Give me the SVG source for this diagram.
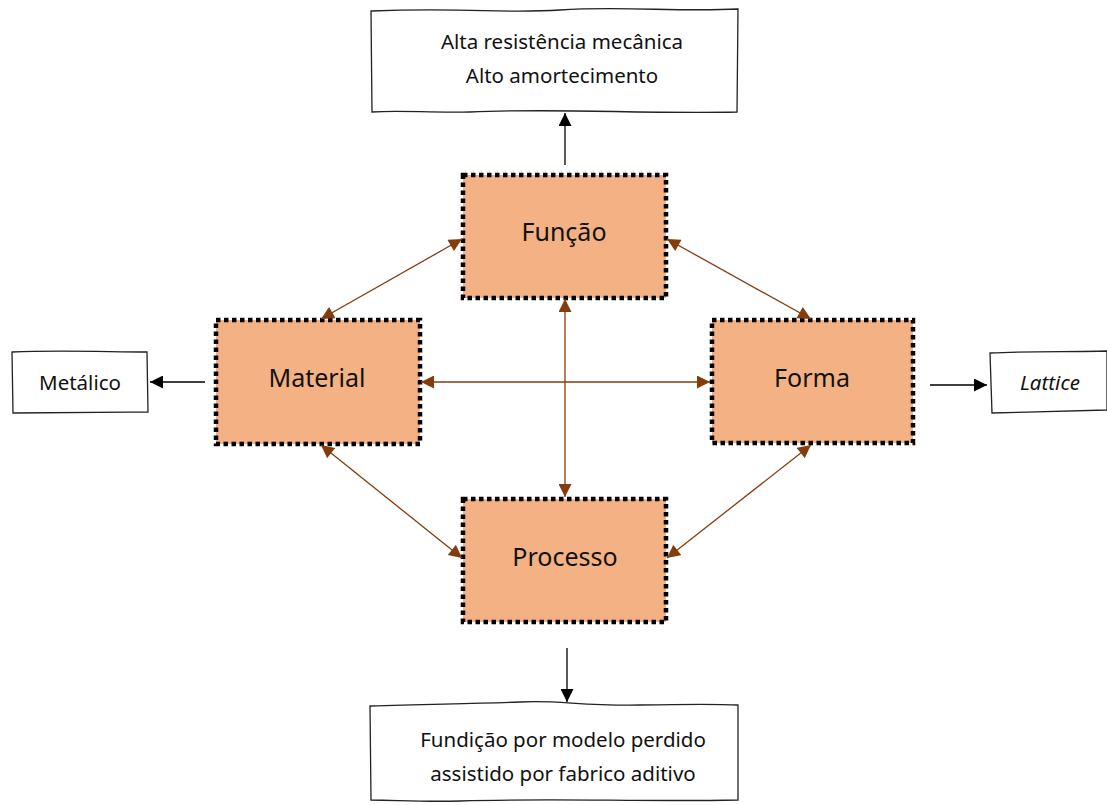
<svg xmlns="http://www.w3.org/2000/svg" width="1107" height="805" viewBox="0 0 1107 805">
<style>
.node rect{fill:#F4B183;stroke:#000;stroke-width:4.5;stroke-dasharray:4.5 3.5}
.wb{fill:#fff;stroke:#222;stroke-width:1.3}
text{font-family:"Noto Sans","Liberation Sans",sans-serif;fill:#111;text-anchor:middle}
.nl{font-size:25px}
.bl{font-size:20.5px}
.br{stroke:#843C0C;stroke-width:1.3;fill:none;marker-start:url(#ab);marker-end:url(#ab)}
.bk{stroke:#000;stroke-width:1.3;fill:none;marker-end:url(#ak)}
</style>
<defs>
<marker id="ab" viewBox="0 0 10 10" refX="10" refY="5" markerWidth="14" markerHeight="13" markerUnits="userSpaceOnUse" orient="auto-start-reverse"><path d="M0,0 L10,5 L0,10 z" fill="#843C0C"/></marker>
<marker id="ak" viewBox="0 0 10 10" refX="10" refY="5" markerWidth="14" markerHeight="13" markerUnits="userSpaceOnUse" orient="auto"><path d="M0,0 L10,5 L0,10 z" fill="#000"/></marker>
</defs>
<g id="top-box">
<path class="wb" d="M371,11 C470,7 500,14 560,10 C620,6 680,12 738,9 L737,112 C640,114 560,108 470,112 C430,113 400,110 372,112 Z"/>
<text class="bl" x="562" y="49">Alta resistência mecânica</text>
<text class="bl" x="562" y="83">Alto amortecimento</text>
</g>
<g id="bottom-box">
<path class="wb" d="M370,706 C430,704 470,704 520,702 C560,700 580,706 640,705 C690,704 720,704 738,705 L738,800 C640,802 560,798 460,801 C420,802 395,800 371,800 Z"/>
<text class="bl" x="563" y="747">Fundição por modelo perdido</text>
<text class="bl" x="563" y="781">assistido por fabrico aditivo</text>
</g>
<g id="metalico">
<path class="wb" d="M12,352 C60,350 110,352 147,352 L148,412 C100,412 50,413 13,413 Z"/>
<text class="bl" x="80" y="390">Metálico</text>
</g>
<g id="lattice">
<path class="wb" d="M990,353 C1030,351 1070,352 1107,351 L1107,410 C1060,411 1030,412 992,413 Z"/>
<text class="bl" x="1050" y="390" font-style="italic">Lattice</text>
</g>
<g id="funcao" class="node">
<rect x="463" y="175" width="203" height="123"/>
<text class="nl" x="564" y="241">Função</text>
</g>
<g id="material" class="node">
<rect x="216" y="320" width="204" height="124"/>
<text class="nl" x="317" y="387">Material</text>
</g>
<g id="forma" class="node">
<rect x="712" y="320" width="201" height="123"/>
<text class="nl" x="812" y="387">Forma</text>
</g>
<g id="processo" class="node">
<rect x="463" y="499" width="203" height="123"/>
<text class="nl" x="565" y="566">Processo</text>
</g>
<g id="connectors">
<line class="bk" x1="565" y1="165" x2="565" y2="113"/>
<line class="bk" x1="567" y1="648" x2="567" y2="702"/>
<line class="bk" x1="205" y1="382" x2="150" y2="382"/>
<line class="bk" x1="930" y1="385" x2="987" y2="385"/>
<line class="br" x1="321" y1="319" x2="462" y2="239"/>
<line class="br" x1="667" y1="239" x2="811" y2="319"/>
<line class="br" x1="321" y1="445" x2="462" y2="558"/>
<line class="br" x1="667" y1="558" x2="811" y2="445"/>
<line class="br" x1="421" y1="382" x2="710" y2="382"/>
<line class="br" x1="565" y1="299" x2="565" y2="497"/>
</g>
</svg>
